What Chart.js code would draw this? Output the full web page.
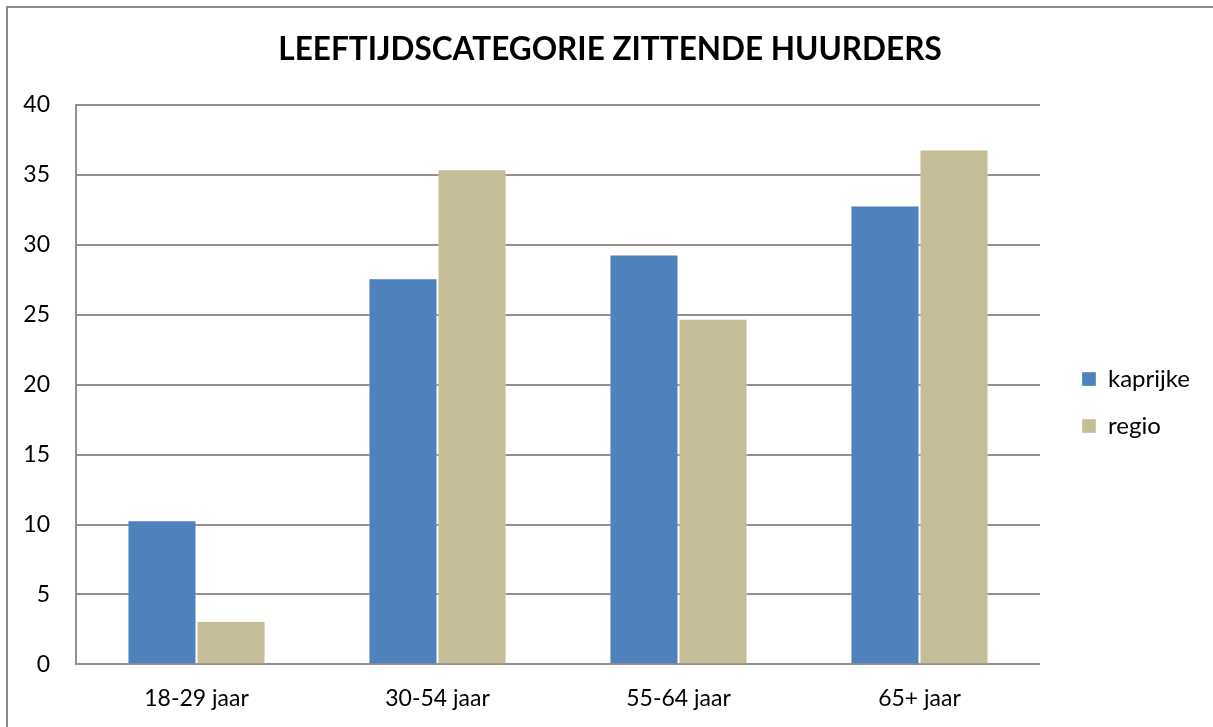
<!DOCTYPE html>
<html>
<head>
<meta charset="utf-8">
<script src="https://cdn.jsdelivr.net/npm/chart.js@4.4.0/dist/chart.umd.min.js"></script>
<style>
    html, body { margin: 0; padding: 0; background: #fff; }
    #wrap { position: relative; width: 1213px; height: 727px; overflow: hidden; }
    #frame { position: absolute; left: 6px; top: 6px; width: 1300px; height: 800px; border-left: 2px solid #8a8a8a; border-top: 2px solid #8a8a8a; }
    canvas { position: absolute; left: 0; top: 0; }
</style>
</head>
<body>
<div id="wrap">
    <div id="frame"></div>
    <canvas id="chart" width="1213" height="727"></canvas>
</div>
<script>
// data
const categories = ['18-29 jaar', '30-54 jaar', '55-64 jaar', '65+ jaar'];
const kaprijke = [10.3, 27.6, 29.3, 32.8];
const regio = [3.1, 35.4, 24.7, 36.8];

const FONT = 'Lato, "Open Sans", sans-serif';
const gridColor = '#909090';

new Chart('chart', {
    type: 'bar',
    data: {
        labels: categories,
        datasets: [
            { label: 'kaprijke', data: kaprijke, backgroundColor: '#4F81BD', borderColor: 'rgba(255,255,255,0.35)', borderWidth: 1 },
            { label: 'regio', data: regio, backgroundColor: '#C4BD97', borderColor: 'rgba(255,255,255,0.35)', borderWidth: 1 }
        ]
    },
    options: {
        responsive: false,
        animation: false,
        layout: { padding: { left: 20, top: 6, right: 13, bottom: -5 } },
        datasets: {
            bar: { categoryPercentage: 0.573, barPercentage: 1.0 }
        },
        plugins: {
            title: {
                display: true,
                text: 'LEEFTIJDSCATEGORIE ZITTENDE HUURDERS',
                color: '#000',
                font: { family: FONT, size: 31.5, weight: 'bold', lineHeight: 1.2 },
                padding: { top: 25, bottom: 36 }
            },
            legend: {
                position: 'right',
                fullSize: false,
                labels: {
                    color: '#000',
                    font: { family: FONT, size: 24 },
                    boxWidth: 14,
                    boxHeight: 14,
                    padding: 23
                },
                title: {
                    display: true,
                    text: ' ',
                    font: { size: 10, lineHeight: 1 },
                    padding: { top: 26, bottom: 0 }
                }
            },
            tooltip: { enabled: false }
        },
        scales: {
            x: {
                grid: { display: false, drawTicks: false },
                border: { display: true, color: gridColor, width: 2 },
                ticks: { color: '#000', font: { family: FONT, size: 23 }, padding: 20 }
            },
            y: {
                min: 0,
                max: 40,
                ticks: { stepSize: 5, color: '#000', font: { family: FONT, size: 23 }, padding: 26 },
                grid: { color: gridColor, lineWidth: 2, drawTicks: false },
                border: { display: true, color: gridColor, width: 2 },
                afterFit(scale) { scale.width = 56; }
            },
            // empty spacer between plot and legend
            spacer: {
                type: 'linear',
                position: 'right',
                display: true,
                grid: { display: false, drawTicks: false },
                border: { display: false },
                ticks: { display: false },
                afterFit(scale) { scale.width = 19; }
            }
        }
    }
});
</script>
</body>
</html>
